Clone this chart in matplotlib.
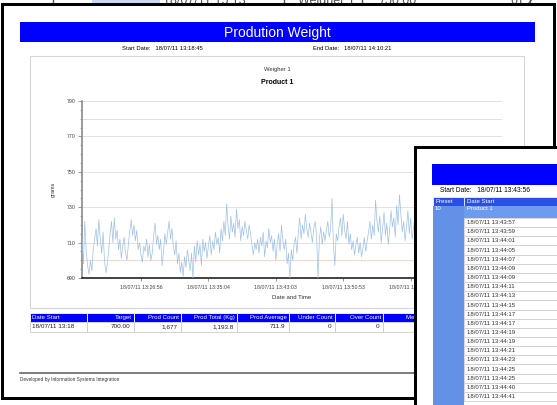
import matplotlib.pyplot as plt
from matplotlib.patches import Rectangle

plt.rcParams['font.family'] = ['Liberation Sans', 'DejaVu Sans']

# weight readings (grams) left to right
weights = [
    712, 698, 722, 705, 697, 692, 700, 694, 706, 712,
    718, 708, 723, 712, 704, 716, 700, 693, 698, 706,
    715, 722, 710, 724, 712, 717, 706, 712, 701, 708,
    713, 704, 700, 709, 716, 723, 714, 720, 711, 717, 706, 710,
    703, 699, 708, 705, 712, 702, 709, 700, 704, 714, 721, 709,
    714, 706, 712, 697, 705, 715, 709, 716, 722, 712, 718, 708,
    703, 711, 698, 704, 693, 699, 691, 702, 696, 706, 700, 694,
    704, 690, 708, 699, 711, 703, 709, 697, 712, 705, 710, 701,
    708, 714, 703, 711, 706, 716, 709, 713, 704, 718, 711, 722,
    714, 732, 719, 712, 725, 716, 721, 713, 729, 718, 723, 711,
    719, 714, 722, 717, 712, 720, 715, 709, 703, 710, 706, 712,
    704, 713, 708, 716, 702, 711, 707, 718, 710, 714, 705, 712,
    700, 709, 715, 705, 720, 711, 706, 712, 698, 704, 690, 706,
    700, 709, 713, 704, 716, 724, 712, 720, 715, 726, 718, 713,
    721, 716, 710, 718, 722, 714, 690, 712, 719, 709, 716, 711,
    717, 722, 713, 718, 735, 708, 697, 715, 711, 719, 724, 714,
    726, 717, 712, 722, 709, 715, 706, 711, 703, 709, 713, 704,
    710, 702, 707, 713, 705, 711, 716, 722, 712, 720, 714, 734,
    722, 716, 725, 710, 718, 727, 714, 721, 709, 717, 728, 719,
    724, 713, 731, 720, 737, 726, 716, 722, 711, 719, 728, 715, 724, 712,
    718, 724, 713, 709, 721, 716, 727, 712, 719, 708, 715, 722,
    717, 711, 726, 714, 720, 709, 716, 723, 712, 718, 729, 715,
    710, 721, 714, 719, 706, 713, 724, 717, 711, 722, 716, 708,
    719, 725, 713, 718, 710, 716, 728, 714, 720, 712, 717, 723,
    709, 715, 721, 713, 718, 726, 711, 719, 714, 722, 708, 716,
    720, 713, 717, 715,
]
tick_idx = [42, 90, 138, 186, 234]
tick_labels = ['18/07/11 13:26:56', '18/07/11 13:35:04', '18/07/11 13:43:03',
               '18/07/11 13:50:53', '18/07/11 13:58:47']
y_ticks = [690, 710, 730, 750, 770, 790]

# summary table
col_names = ['Date Start', 'Target', 'Prod Count', 'Prod Total (Kg)', 'Prod Average',
             'Under Count', 'Over Count', 'Metal Count']
col_values = ['18/07/11 13:18', '700.00', '1,677', '1,193.8', '711.9', '0', '0', '0']

# second report window
preset_dates = ['13:43:57', '13:43:59', '13:44:01', '13:44:05', '13:44:07', '13:44:09',
                '13:44:09', '13:44:11', '13:44:13', '13:44:15', '13:44:17', '13:44:17',
                '13:44:19', '13:44:19', '13:44:21', '13:44:23', '13:44:25', '13:44:25',
                '13:44:40', '13:44:41']

W, H = 557, 405
fig = plt.figure(figsize=(W / 100, H / 100), dpi=100)


def canvas(z):
    a = fig.add_axes([0, 0, 1, 1], zorder=z)
    a.set_xlim(0, W)
    a.set_ylim(H, 0)
    a.axis('off')
    a.patch.set_alpha(0)
    return a


def box(a, x, y, w, h, fc, ec='none', lw=0, z=1):
    a.add_patch(Rectangle((x, y), w, h, facecolor=fc, edgecolor=ec, linewidth=lw, zorder=z))


bg = canvas(0)

# window behind, just the bottom edge showing
box(bg, 92, 0, 68, 4, '#c9d8f2', z=0.2)
for xl in [53, 284, 362, 530]:
    bg.plot([xl, xl], [0, 4], color='#555555', lw=1, zorder=0.3)
for xt, s in [(163, '18/07/11 15:13'), (298, 'Weigher 1'), (378, '750.00'), (510, '61.2')]:
    bg.text(xt, 7, s, fontsize=9, color='#555555', va='bottom', zorder=0.4)

# main report window
box(bg, 1, 3, 555, 397, 'black')
box(bg, 3.5, 5.5, 549.5, 391.5, 'white', z=1.1)
box(bg, 20, 22, 515, 20, '#0000ff', z=1.2)
bg.text(277.5, 32.5, 'Prodution Weight', color='white', fontsize=10,
        ha='center', va='center', zorder=2)
bg.text(122, 49, 'Start Date:   18/07/11 13:18:45', fontsize=4.2, va='center', zorder=2)
bg.text(313, 49, 'End Date:   18/07/11 14:10:21', fontsize=4.2, va='center', zorder=2)

box(bg, 30, 56, 494, 252, 'white', ec='#d6d6d6', lw=0.8, z=1.2)
bg.text(277, 69, 'Weigher 1', fontsize=4.2, color='#333333', ha='center', va='center', zorder=2)
bg.text(277, 82.5, 'Product 1', fontsize=5, fontweight='bold', ha='center', va='center', zorder=2)

# summary table
edges = [30, 86.5, 133.5, 180.5, 236.5, 288.5, 334.5, 382.5, 440]
for i, (name, val) in enumerate(zip(col_names, col_values)):
    x0, x1 = edges[i], edges[i + 1]
    box(bg, x0, 313, x1 - x0, 8.5, '#0000ff', ec='white', lw=0.6, z=1.3)
    box(bg, x0, 321.5, x1 - x0, 10.5, 'white', ec='#cccccc', lw=0.6, z=1.3)
    if i == 0:
        bg.text(x0 + 2, 317.4, name, color='white', fontsize=4.4, va='center', zorder=2)
        bg.text(x0 + 2, 326.8, val, color='#222222', fontsize=4.6, va='center', zorder=2)
    else:
        bg.text(x1 - 1.5, 317.4, name, color='white', fontsize=4.4, ha='right', va='center', zorder=2)
        bg.text(x1 - 3, 326.8, val, color='#222222', fontsize=4.6, ha='right', va='center', zorder=2)

bg.plot([20, 540], [373, 373], color='#666666', lw=1.2, zorder=2)
bg.text(20, 379.5, 'Developed by Information Systems Integration', fontsize=3.4,
        color='#333333', va='center', zorder=2)

# chart
ax = fig.add_axes([82 / W, 1 - 278 / H, 420 / W, 177 / H], zorder=1)
ax.set_facecolor('none')
ax.plot(range(len(weights)), weights, color='#9fc0e8', lw=0.5, zorder=3)
ax.set_xlim(0, len(weights) - 1)
ax.set_ylim(690, 790)
ax.set_yticks(y_ticks)
ax.set_yticks(range(690, 791, 5), minor=True)
ax.grid(True, axis='y', which='major', color='#e2e2e2', lw=0.7)
ax.axhline(780, color='#d3e5de', lw=0.7)
ax.axhline(700, color='#f1d8cf', lw=0.7)
ax.set_xticks(tick_idx)
ax.set_xticklabels(tick_labels)
for s in ['top', 'right']:
    ax.spines[s].set_visible(False)
ax.spines['left'].set_color('#8a8a8a')
ax.spines['left'].set_linewidth(1.2)
ax.spines['bottom'].set_color('#222222')
ax.spines['bottom'].set_linewidth(1.2)
ax.tick_params(axis='y', which='major', labelsize=3.8, length=3, width=0.6,
               color='#888888', labelcolor='#444444', pad=1.5)
ax.tick_params(axis='y', which='minor', length=1.6, width=0.5, color='#888888')
ax.tick_params(axis='x', labelsize=3.8, length=2, width=0.6, color='#888888',
               labelcolor='#444444', pad=3)
ax.set_xlabel('Date and Time', fontsize=4.3, color='#333333')
ax.xaxis.set_label_coords(0.5, -0.095)
ax.set_ylabel('grams', fontsize=4, color='#333333')
ax.yaxis.set_label_coords(-26 / 420, 0.5)

# overlapping window
ov = canvas(5)
box(ov, 414, 146, 150, 270, 'black')
box(ov, 417, 149, 150, 270, 'white', z=1.1)
box(ov, 432, 164, 130, 21, '#0000ff', z=1.2)
ov.text(440, 191, 'Start Date:   18/07/11 13:43:56', fontsize=4.8, va='center', zorder=2)
box(ov, 433, 197, 30.5, 8.5, '#2a4fe6', ec='white', lw=0.5, z=1.3)
box(ov, 464, 197, 100, 8.5, '#2a4fe6', ec='white', lw=0.5, z=1.3)
ov.text(435, 201.3, 'Preset', color='white', fontsize=4.3, va='center', zorder=2)
ov.text(467, 201.3, 'Date Start', color='white', fontsize=4.3, va='center', zorder=2)
box(ov, 433, 205.5, 30.5, 210, '#6391e8', z=1.3)
box(ov, 464, 205.5, 100, 12.5, '#6c9bf0', z=1.3)
ov.text(435, 209, '10', color='white', fontsize=4.3, va='center', zorder=2)
ov.text(467, 209, 'Product 1', color='white', fontsize=4.3, va='center', zorder=2)
for k, d in enumerate(preset_dates):
    y0 = 218 + k * 9.15
    box(ov, 464, y0, 100, 9.15, 'white', ec='#c8c8c8', lw=0.5, z=1.3)
    ov.text(467, y0 + 4.7, '18/07/11 ' + d, color='#333333', fontsize=4.3, va='center', zorder=2)

fig.savefig('out.png', dpi=100)
